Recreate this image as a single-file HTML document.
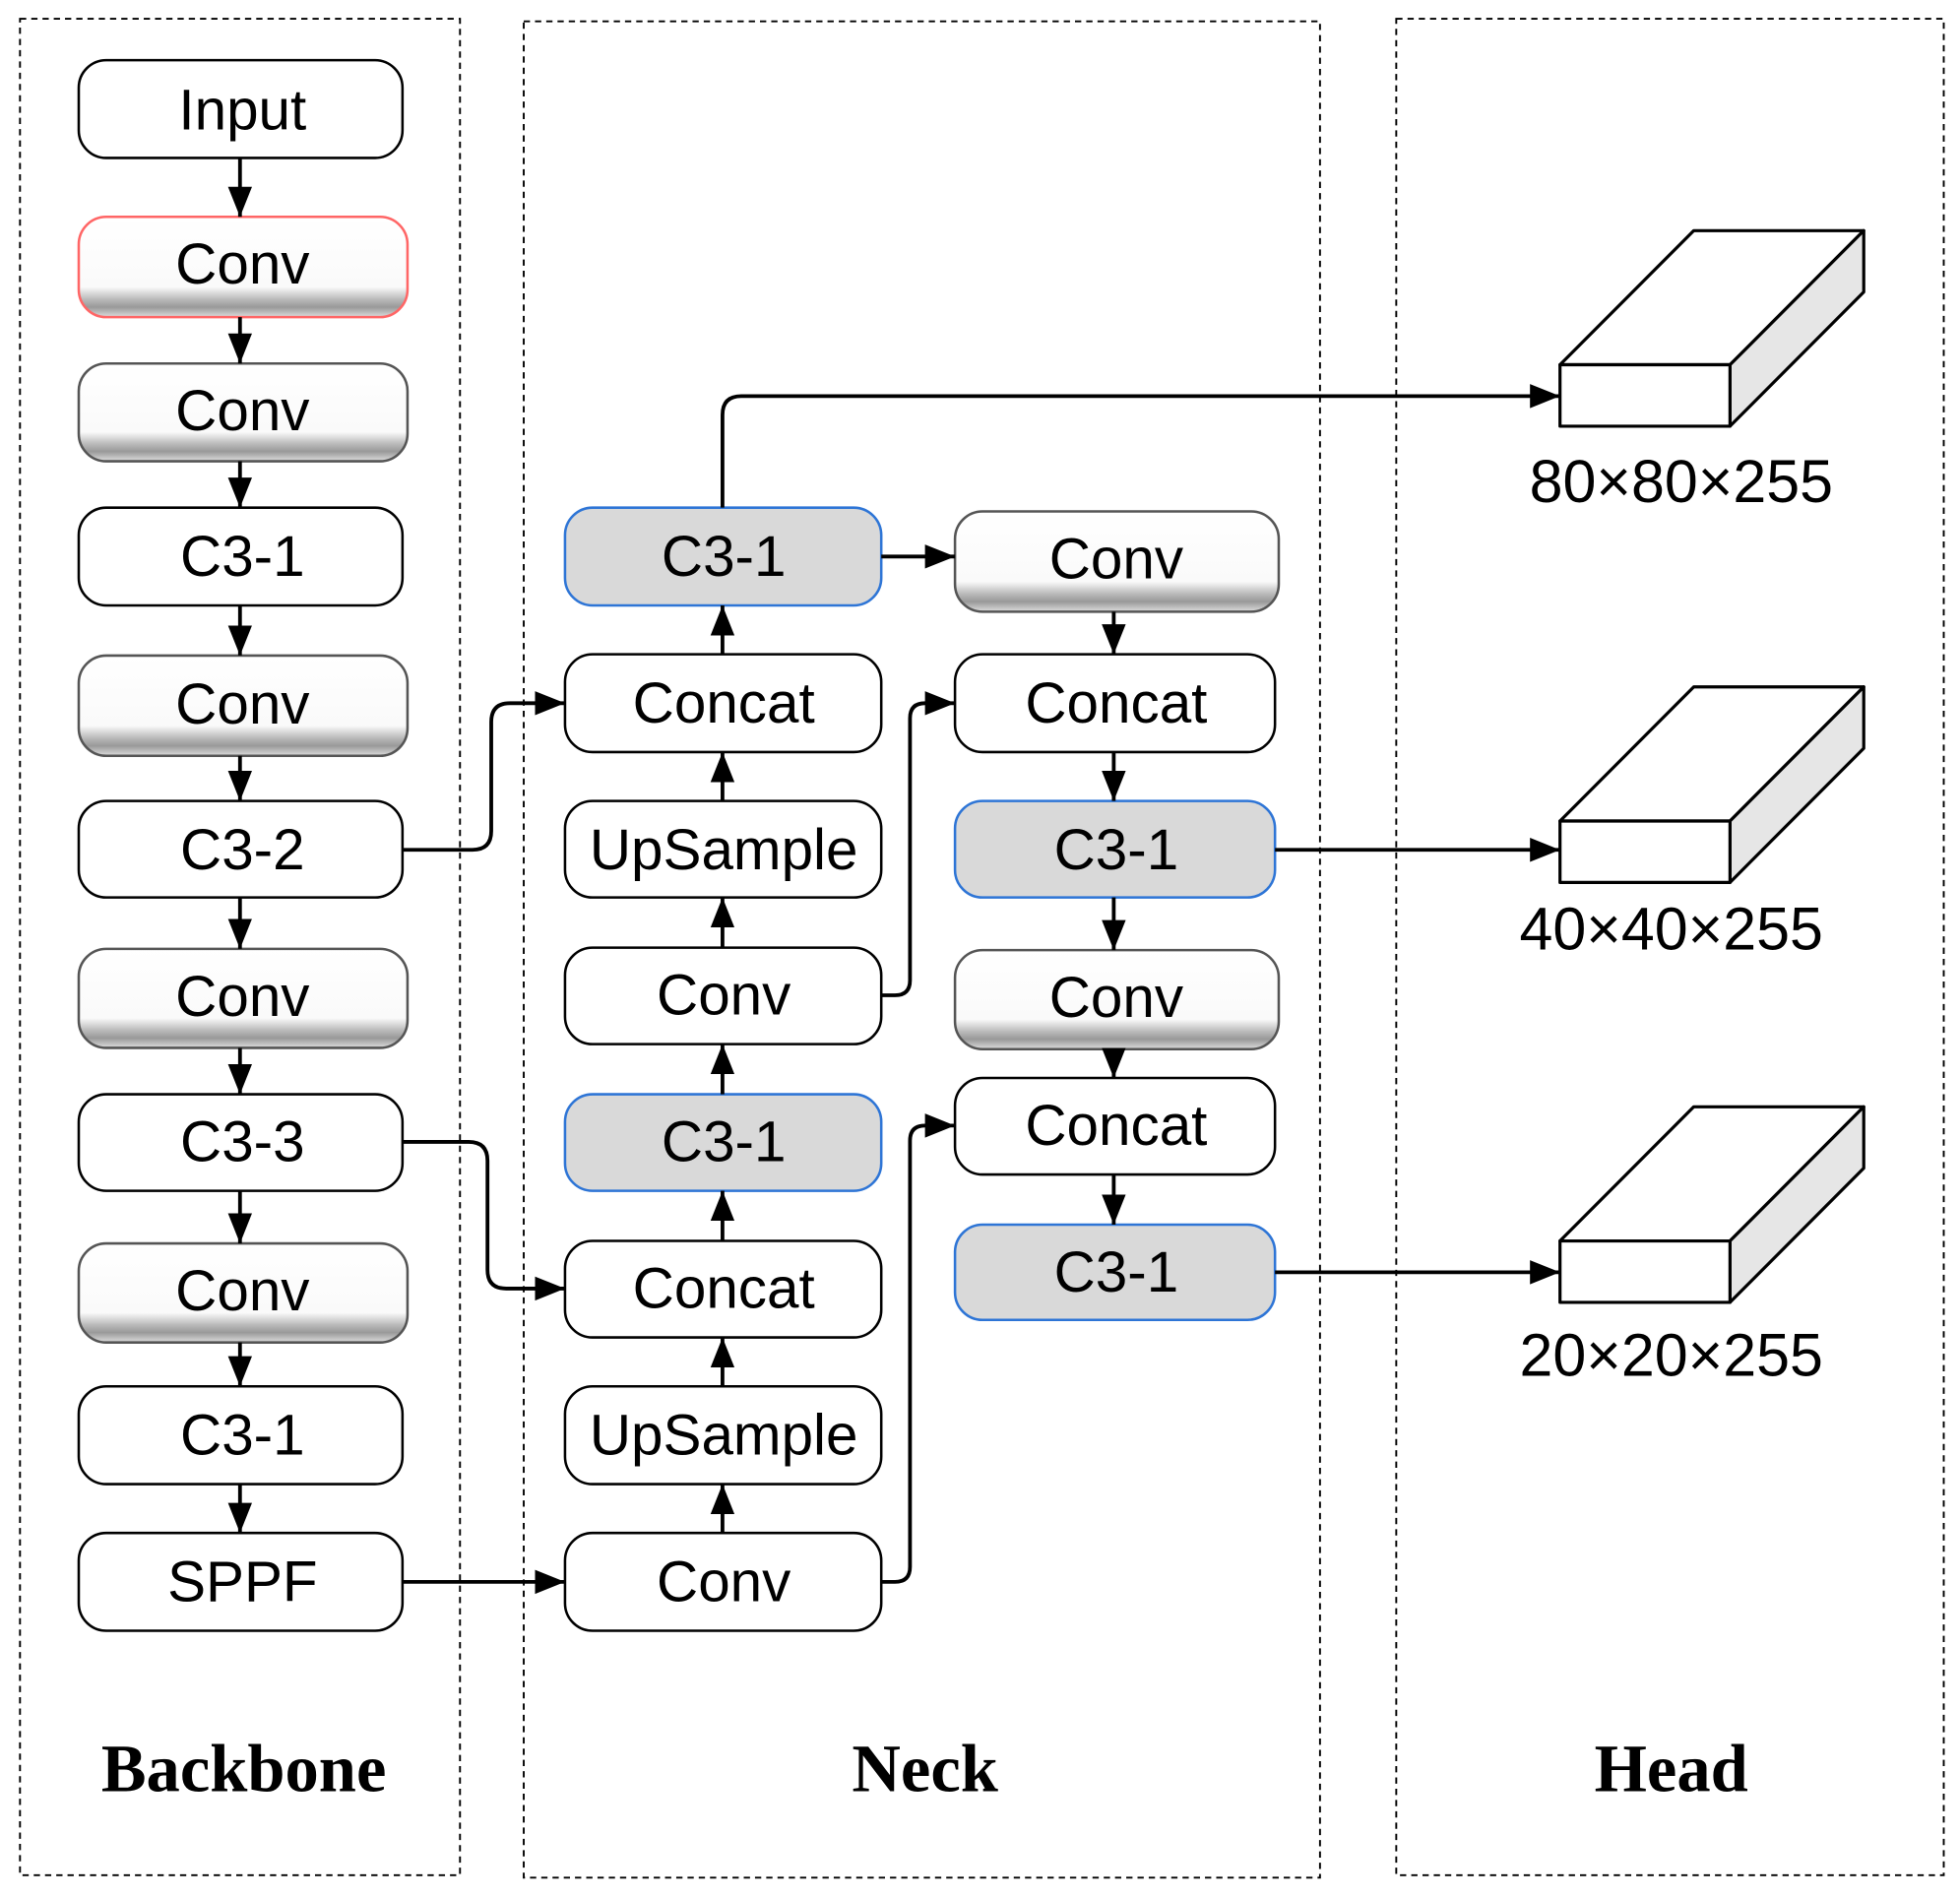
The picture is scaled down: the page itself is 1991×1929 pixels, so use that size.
<!DOCTYPE html>
<html><head><meta charset="utf-8"><style>html,body{margin:0;padding:0;background:#fff}svg{display:block}</style></head><body>
<svg width="1991" height="1929" viewBox="0 0 1568 1515" preserveAspectRatio="none" xmlns="http://www.w3.org/2000/svg">
<defs>
<linearGradient id="sh" x1="0" y1="0" x2="0" y2="1">
<stop offset="0" stop-color="#fff"/><stop offset="0.7" stop-color="#fafafa"/><stop offset="0.82" stop-color="#bbb"/><stop offset="0.9" stop-color="#999"/><stop offset="1" stop-color="#ddd"/>
</linearGradient>
<marker id="ar" viewBox="0 0 10 10" refX="10" refY="5" markerWidth="24" markerHeight="24" markerUnits="userSpaceOnUse" orient="auto"><path d="M0,1L10,5L0,9z"/></marker>
</defs>
<g fill="none" stroke="#000" stroke-width="1.5" stroke-dasharray="5,4">
<rect x="16" y="15" width="352" height="1481"/>
<rect x="419" y="17" width="637" height="1481"/>
<rect x="1117" y="15" width="438" height="1481"/>
</g>
<g font-family="Liberation Sans, sans-serif" font-size="46" text-anchor="middle" dominant-baseline="central">
<g stroke="#000" stroke-width="2">
<rect x="63" y="48" width="259" height="78" rx="22" fill="#fff"/>
<rect x="63" y="173" width="263" height="80" rx="22" fill="url(#sh)" stroke="#f66"/>
<rect x="63" y="290" width="263" height="78" rx="22" fill="url(#sh)" stroke="#555"/>
<rect x="63" y="405" width="259" height="78" rx="22" fill="#fff"/>
<rect x="63" y="523" width="263" height="80" rx="22" fill="url(#sh)" stroke="#555"/>
<rect x="63" y="639" width="259" height="77" rx="22" fill="#fff"/>
<rect x="63" y="757" width="263" height="79" rx="22" fill="url(#sh)" stroke="#555"/>
<rect x="63" y="873" width="259" height="77" rx="22" fill="#fff"/>
<rect x="63" y="992" width="263" height="79" rx="22" fill="url(#sh)" stroke="#555"/>
<rect x="63" y="1106" width="259" height="78" rx="22" fill="#fff"/>
<rect x="63" y="1223" width="259" height="78" rx="22" fill="#fff"/>
<rect x="452" y="405" width="253" height="78" rx="22" fill="#d9d9d9" stroke="#2e75d6"/>
<rect x="452" y="522" width="253" height="78" rx="22" fill="#fff"/>
<rect x="452" y="639" width="253" height="77" rx="22" fill="#fff"/>
<rect x="452" y="756" width="253" height="77" rx="22" fill="#fff"/>
<rect x="452" y="873" width="253" height="77" rx="22" fill="#d9d9d9" stroke="#2e75d6"/>
<rect x="452" y="990" width="253" height="77" rx="22" fill="#fff"/>
<rect x="452" y="1106" width="253" height="78" rx="22" fill="#fff"/>
<rect x="452" y="1223" width="253" height="78" rx="22" fill="#fff"/>
<rect x="764" y="408" width="259" height="80" rx="22" fill="url(#sh)" stroke="#555"/>
<rect x="764" y="522" width="256" height="78" rx="22" fill="#fff"/>
<rect x="764" y="639" width="256" height="77" rx="22" fill="#d9d9d9" stroke="#2e75d6"/>
<rect x="764" y="758" width="259" height="79" rx="22" fill="url(#sh)" stroke="#555"/>
<rect x="764" y="860" width="256" height="77" rx="22" fill="#fff"/>
<rect x="764" y="977" width="256" height="76" rx="22" fill="#d9d9d9" stroke="#2e75d6"/>
</g>
<text x="194" y="88">Input</text>
<text x="194" y="211">Conv</text>
<text x="194" y="328">Conv</text>
<text x="194" y="444">C3-1</text>
<text x="194" y="562">Conv</text>
<text x="194" y="678">C3-2</text>
<text x="194" y="795">Conv</text>
<text x="194" y="911">C3-3</text>
<text x="194" y="1030">Conv</text>
<text x="194" y="1145">C3-1</text>
<text x="194" y="1262">SPPF</text>
<text x="579" y="444">C3-1</text>
<text x="579" y="561">Concat</text>
<text x="579" y="678">UpSample</text>
<text x="579" y="794">Conv</text>
<text x="579" y="911">C3-1</text>
<text x="579" y="1028">Concat</text>
<text x="579" y="1145">UpSample</text>
<text x="579" y="1262">Conv</text>
<text x="893" y="446">Conv</text>
<text x="893" y="561">Concat</text>
<text x="893" y="678">C3-1</text>
<text x="893" y="796">Conv</text>
<text x="893" y="898">Concat</text>
<text x="893" y="1015">C3-1</text>
<g font-size="48">
<text x="1345" y="384">80×80×255</text>
<text x="1337" y="741">40×40×255</text>
<text x="1337" y="1081">20×20×255</text>
</g>
<g font-family="Liberation Serif, serif" font-weight="bold" font-size="54">
<text x="195" y="1411">Backbone</text>
<text x="740" y="1411">Neck</text>
<text x="1337" y="1411">Head</text>
</g>
</g>
<g fill="none" stroke="#000" stroke-width="3" marker-end="url(#ar)">
<path d="M192 126V173"/><path d="M192 253V290"/><path d="M192 368V405"/><path d="M192 483V523"/><path d="M192 603V639"/><path d="M192 716V757"/><path d="M192 836V873"/><path d="M192 950V992"/><path d="M192 1071V1106"/><path d="M192 1184V1223"/>
<path d="M578 522V483"/><path d="M578 639V600"/><path d="M578 756V716"/><path d="M578 873V833"/><path d="M578 990V950"/><path d="M578 1106V1067"/><path d="M578 1223V1184"/>
<path d="M891 488V522"/><path d="M891 600V639"/><path d="M891 716V758"/><path d="M891 837V860"/><path d="M891 937V977"/>
<path d="M322 678H378Q393 678 393 663V576Q393 561 408 561H452"/>
<path d="M322 911H375Q390 911 390 926V1013Q390 1028 405 1028H452"/>
<path d="M322 1262H452"/>
<path d="M578 405V331Q578 316 593 316H1248"/>
<path d="M705 444H764"/>
<path d="M705 794H716Q728 794 728 782V573Q728 561 740 561H764"/>
<path d="M705 1262H716Q728 1262 728 1250V910Q728 898 740 898H764"/>
<path d="M1020 678H1248"/>
<path d="M1020 1015H1248"/>
</g>
<g stroke="#000" stroke-width="2.5" stroke-linejoin="round">
<g><polygon points="1248,291 1355,184 1491,184 1384,291" fill="#fff"/><polygon points="1384,291 1491,184 1491,233 1384,340" fill="#e6e6e6"/><rect x="1248" y="291" width="136" height="49" fill="#fff"/></g>
<g><polygon points="1248,655 1355,548 1491,548 1384,655" fill="#fff"/><polygon points="1384,655 1491,548 1491,597 1384,704" fill="#e6e6e6"/><rect x="1248" y="655" width="136" height="49" fill="#fff"/></g>
<g><polygon points="1248,990 1355,883 1491,883 1384,990" fill="#fff"/><polygon points="1384,990 1491,883 1491,932 1384,1039" fill="#e6e6e6"/><rect x="1248" y="990" width="136" height="49" fill="#fff"/></g>
</g>
</svg>
</body></html>
